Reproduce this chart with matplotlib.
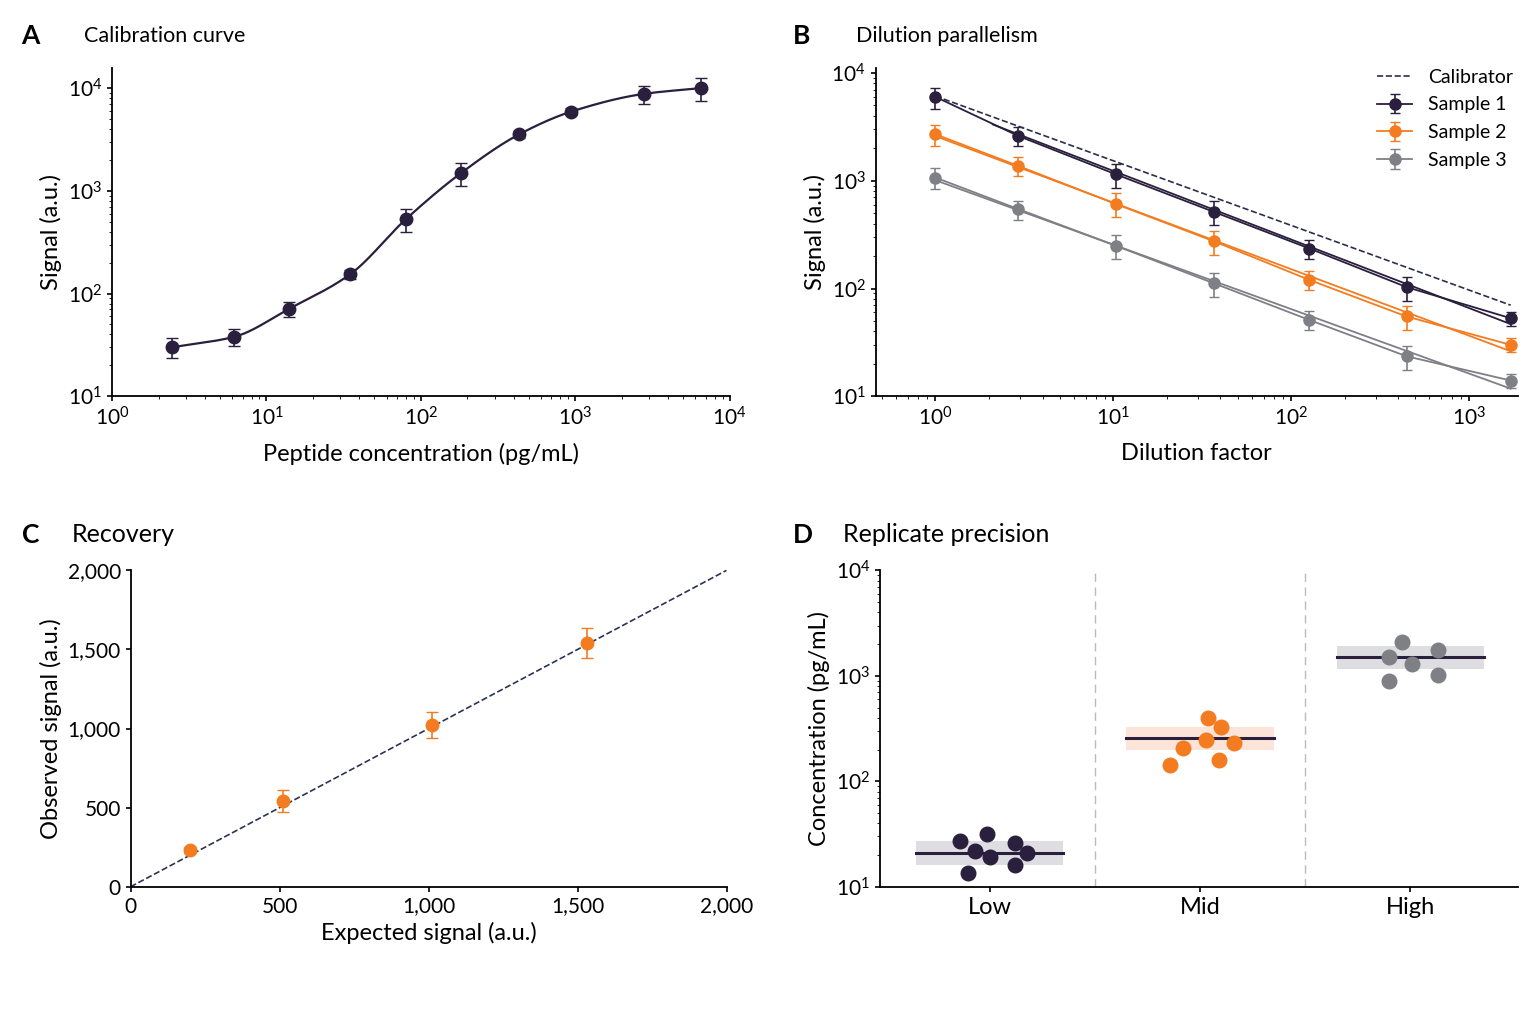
import numpy as np
import matplotlib
matplotlib.use("Agg")
import matplotlib.pyplot as plt

plt.rcParams['font.family'] = ['Lato', 'DejaVu Sans']
plt.rcParams['font.size'] = 15

DARK = '#2a1f3d'; ORANGE = '#f47c20'; GRAY = '#7f7f86'

# Panel A data
conc = [2.45, 6.2, 14, 35, 80, 182, 435, 940, 2800, 6500]
signal = [30, 38, 71, 155, 530, 1490, 3560, 5900, 8800, 10000]
sig_err_frac = [0.22, 0.18, 0.17, 0.1, 0.25, 0.25, 0.08, 0.08, 0.2, 0.25]

# Panel B data
dil = [1, 2.93, 10.3, 36.7, 127, 447, 1720]
s1 = [6000, 2600, 1150, 515, 235, 103, 53]
s2 = [2700, 1370, 610, 275, 120, 55, 30]
s3 = [1070, 545, 250, 112, 51, 23.5, 14]
calib_end = [6100, 70]
b_err_frac = [0.22, 0.2, 0.25, 0.25, 0.2, 0.25, 0.15]

# Panel C data
expected = [201, 510, 1010, 1533]
observed = [233, 543, 1022, 1539]
obs_err = [20, 70, 80, 95]

# Panel D data
cats = ['Low', 'Mid', 'High']
low = [27, 32, 26, 22, 19, 21, 16, 13.5]
low_dx = [-0.14, -0.01, 0.12, -0.07, 0.0, 0.18, 0.12, -0.10]
mid = [400, 325, 245, 230, 205, 158, 142]
mid_dx = [0.04, 0.10, 0.03, 0.16, -0.08, 0.09, -0.14]
high = [2100, 1740, 1500, 1290, 1010, 890]
high_dx = [-0.04, 0.13, -0.10, 0.01, 0.13, -0.10]
means = [21, 257, 1500]
bands = [(16, 27), (200, 330), (1150, 1900)]

fig = plt.figure(figsize=(15.36, 10.24), dpi=100)
axA = fig.add_axes([0.073, 0.613, 0.402, 0.321])
axB = fig.add_axes([0.570, 0.613, 0.418, 0.321])
axC = fig.add_axes([0.085, 0.134, 0.388, 0.309])
axD = fig.add_axes([0.573, 0.134, 0.415, 0.309])

for ax in (axA, axB, axC, axD):
    for s in ('top', 'right'):
        ax.spines[s].set_visible(False)
    ax.spines['left'].set_linewidth(1.3)
    ax.spines['bottom'].set_linewidth(1.3)
    ax.tick_params(labelsize=15, width=1.2)

def smooth_loglog(x, y, n=300):
    lx, ly = np.log10(x), np.log10(y)
    # monotone cubic (Fritsch-Carlson)
    h = np.diff(lx); d = np.diff(ly) / h
    m = np.zeros_like(lx)
    m[0], m[-1] = d[0], d[-1]
    for i in range(1, len(lx) - 1):
        if d[i-1] * d[i] > 0:
            w1 = 2*h[i] + h[i-1]; w2 = h[i] + 2*h[i-1]
            m[i] = (w1 + w2) / (w1/d[i-1] + w2/d[i])
    xs, ys = [], []
    for i in range(len(h)):
        t = np.linspace(0, 1, 40)
        h00 = 2*t**3 - 3*t**2 + 1; h10 = t**3 - 2*t**2 + t
        h01 = -2*t**3 + 3*t**2; h11 = t**3 - t**2
        xs.append(lx[i] + t*h[i])
        ys.append(h00*ly[i] + h10*h[i]*m[i] + h01*ly[i+1] + h11*h[i]*m[i+1])
    return 10**np.concatenate(xs), 10**np.concatenate(ys)

# A
cx, cy = smooth_loglog(conc, signal)
axA.plot(cx, cy, color=DARK, lw=1.6)
sig = np.array(signal); fe = np.array(sig_err_frac)
axA.errorbar(conc, signal, yerr=sig*fe, fmt='o', color=DARK, ms=9, capsize=4, elinewidth=1.2)
axA.set_xscale('log'); axA.set_yscale('log')
axA.set_xlim(1, 1e4); axA.set_ylim(10, 10**4.2)
axA.set_xlabel('Peptide concentration (pg/mL)', fontsize=17, labelpad=10)
axA.set_ylabel('Signal (a.u.)', fontsize=17)

# B
def fitline(x, y, xr):
    p = np.polyfit(np.log10(x), np.log10(y), 1)
    xr = np.array(xr)
    return xr, 10**np.polyval(p, np.log10(xr))
for ys, col, lab, x0 in ((s1, DARK, 'Sample 1', 2.1), (s2, ORANGE, 'Sample 2', 1), (s3, GRAY, 'Sample 3', 1)):
    lx, ly = fitline(dil, ys, [x0, dil[-1]])
    axB.plot(lx, ly, color=col, lw=1.3)
    ya = np.array(ys)
    axB.errorbar(dil, ys, yerr=ya*np.array(b_err_frac), fmt='o', color=col, ms=8, capsize=3.5,
                 elinewidth=1.2, label=lab, linestyle='-', lw=1.3)
axB.plot([dil[0], dil[-1]], calib_end, '--', color='#2b2f4a', lw=1.2, label='Calibrator')
axB.set_xscale('log'); axB.set_yscale('log')
axB.set_xlim(0.46, 1880); axB.set_ylim(10, 10**4.05)
axB.set_xlabel('Dilution factor', fontsize=17, labelpad=10)
axB.set_ylabel('Signal (a.u.)', fontsize=17)
axB.legend(loc='upper right', frameon=False, fontsize=14, bbox_to_anchor=(1.02, 1.05),
           handlelength=1.8, labelspacing=0.55)

# C
axC.plot([0, 2000], [0, 2000], '--', color='#2b3550', lw=1.2)
axC.errorbar(expected, observed, yerr=obs_err, fmt='o', color=ORANGE, ms=9, capsize=4, elinewidth=1.2)
axC.set_xlim(0, 2000); axC.set_ylim(0, 2000)
axC.set_xticks([0, 500, 1000, 1500, 2000]); axC.set_yticks([0, 500, 1000, 1500, 2000])
fmt = matplotlib.ticker.FuncFormatter(lambda v, p: f'{int(v):,}')
axC.xaxis.set_major_formatter(fmt); axC.yaxis.set_major_formatter(fmt)
axC.set_xlabel('Expected signal (a.u.)', fontsize=17)
axC.set_ylabel('Observed signal (a.u.)', fontsize=17)

# D
cols = [DARK, ORANGE, GRAY]
bandcols = ['#c9c9cf', '#fbd3bf', '#c9c9cf']
for i, (vals, dx) in enumerate(((low, low_dx), (mid, mid_dx), (high, high_dx))):
    axD.fill_between([i-0.35, i+0.35], bands[i][0], bands[i][1], color=bandcols[i], alpha=0.6, lw=0)
    axD.plot([i-0.35, i+0.35], [means[i]]*2, color=DARK, lw=2.2)
    axD.scatter(np.array(dx)+i, vals, s=110, color=cols[i], zorder=3)
for xv in (0.5, 1.5):
    axD.axvline(xv, color='#bbbbbb', ls=(0, (6, 4)), lw=1)
axD.set_yscale('log'); axD.set_ylim(10, 1e4); axD.set_xlim(-0.52, 2.51)
axD.set_xticks([0, 1, 2]); axD.set_xticklabels(cats, fontsize=17)
axD.set_ylabel('Concentration (pg/mL)', fontsize=17)

# Panel letters and titles
for x, y, L, T in ((0.014, 0.965, 'A', 'Calibration curve'), (0.516, 0.965, 'B', 'Dilution parallelism'),
                   (0.014, 0.478, 'C', 'Recovery'), (0.516, 0.478, 'D', 'Replicate precision')):
    fig.text(x, y, L, fontsize=19, fontweight='bold', va='center')
    fig.text(x + (0.041 if L in 'AB' else 0.033), y, T, fontsize=15.5 if L in 'AB' else 18, va='center')

fig.savefig('out.png', dpi=100, facecolor='white')
